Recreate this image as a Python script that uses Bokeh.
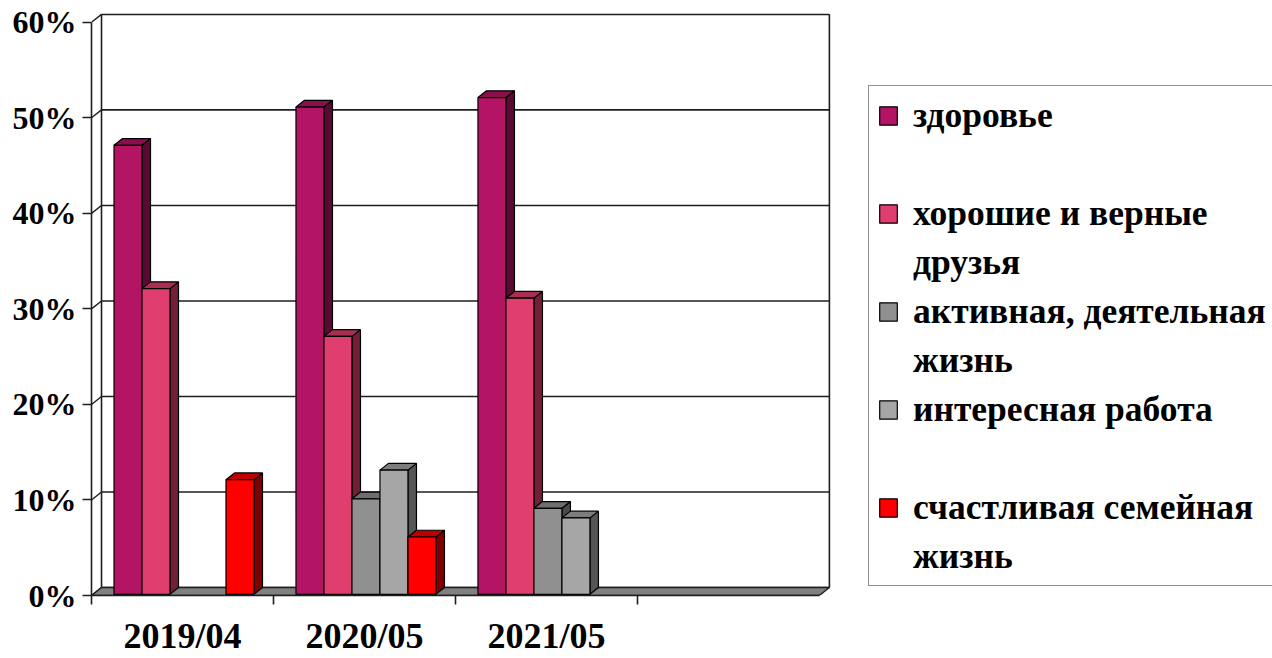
from bokeh.plotting import figure
from bokeh.models import (Range1d, LinearAxis, FixedTicker, PrintfTickFormatter,
                          Legend, LegendItem, ColumnDataSource)
from bokeh.embed import file_html
from bokeh.resources import INLINE

# ---------------- data ----------------
categories = ["2019/04", "2020/05", "2021/05", ""]
series_names = ["здоровье", "хорошие и верные друзья", "активная, деятельная жизнь",
                "интересная работа", "счастливая семейная жизнь"]
zdorovye = [47, 51, 52, None]
druzya = [32, 27, 31, None]
aktivnaya = [None, 10, 9, None]
interesnaya = [None, 13, 8, None]
semeynaya = [12, 6, None, None]
y_ticks = [0, 10, 20, 30, 40, 50, 60]

series_values = [zdorovye, druzya, aktivnaya, interesnaya, semeynaya]
# legend rows: (text line, series index or None for a continuation / blank line)
legend_rows = [("здоровье", 0), (" ", None),
               ("хорошие и верные", 1), ("друзья", None),
               ("активная, деятельная", 2), ("жизнь", None),
               ("интересная работа", 3), (" ", None),
               ("счастливая семейная", 4), ("жизнь", None)]

# ---------------- styles ----------------
front_colors = ["#B31463", "#E03E6E", "#909090", "#A6A6A6", "#FF0000"]
top_colors = ["#8A0F4C", "#A82E52", "#6E6E6E", "#7D7D7D", "#C00000"]
side_colors = ["#5A0A32", "#712038", "#4A4A4A", "#555555", "#800000"]
FONT = "Liberation Serif"

NCAT = len(categories)
NSER = len(series_values)
DX, DY = 0.055, 0.83          # depth offset (x in category units, y in percent)
GAP = 1.5                     # gap width as fraction of bar width
FRONT_INSET = 0.15
YMAX = y_ticks[-1]

W, H = 1272, 658
LEFT, TOP, BOTTOM = 91, 13, 61
CHART_W = 739                  # width of the 3-D box in pixels
FRAME_W = W - LEFT
x_end = (NCAT + DX + 0.006) * FRAME_W / CHART_W

p = figure(width=W, height=H,
           x_range=Range1d(0, x_end), y_range=Range1d(0, YMAX + DY + 0.09),
           min_border_left=LEFT, min_border_right=0, min_border_top=TOP, min_border_bottom=BOTTOM,
           output_backend="svg", toolbar_location=None,
           x_axis_type=None, y_axis_type=None)
p.outline_line_color = None
p.background_fill_color = "white"
p.border_fill_color = "white"

LINE = "#1e1e1e"

# back wall gridlines and side-wall connectors
grid_src = ColumnDataSource(dict(
    x0=[DX] * len(y_ticks), y0=[v + DY for v in y_ticks],
    x1=[NCAT + DX] * len(y_ticks), y1=[v + DY for v in y_ticks]))
p.segment("x0", "y0", "x1", "y1", source=grid_src, line_color=LINE, line_width=1.6)
conn_src = ColumnDataSource(dict(
    x0=[0] * len(y_ticks), y0=list(y_ticks),
    x1=[DX] * len(y_ticks), y1=[v + DY for v in y_ticks]))
p.segment("x0", "y0", "x1", "y1", source=conn_src, line_color=LINE, line_width=1.4)
# back wall vertical edges
p.segment(x0=[DX, NCAT + DX], y0=[DY, DY], x1=[DX, NCAT + DX], y1=[YMAX + DY, YMAX + DY],
          line_color=LINE, line_width=1.6)

# floor
p.patch([0, NCAT, NCAT + DX, DX], [0, 0, DY, DY], fill_color="#808080",
        line_color=LINE, line_width=1.4)

# bars
slot = 1.0 / (NSER + GAP)
fx, fy = FRONT_INSET * DX, FRONT_INSET * DY
front_renderers = []
for s, vals in enumerate(series_values):
    L, R, T = [], [], []
    for i, v in enumerate(vals):
        if v is None:
            continue
        left = i + (GAP / 2 + s) * slot
        L.append(left)
        R.append(left + slot)
        T.append(v)
    side_xs = [[r + fx, r + DX, r + DX, r + fx] for r in R]
    side_ys = [[fy, DY, t + DY, t + fy] for t in T]
    top_xs = [[l + fx, r + fx, r + DX, l + DX] for l, r in zip(L, R)]
    top_ys = [[t + fy, t + fy, t + DY, t + DY] for t in T]
    p.patches(side_xs, side_ys, fill_color=side_colors[s], line_color="black", line_width=1.2)
    p.patches(top_xs, top_ys, fill_color=top_colors[s], line_color="black", line_width=1.2)
    fr = p.quad(left=[l + fx for l in L], right=[r + fx for r in R],
                bottom=[fy] * len(T), top=[t + fy for t in T],
                fill_color=front_colors[s], line_color="black", line_width=1.2)
    front_renderers.append(fr)

# invisible renderer for continuation lines of the legend
blank = p.quad(left=[], right=[], top=[], bottom=[], fill_alpha=0, line_alpha=0)

# y axis (front)
yaxis = LinearAxis(ticker=FixedTicker(ticks=y_ticks, minor_ticks=[]),
                   formatter=PrintfTickFormatter(format="%d%%"), bounds=(0, YMAX))
yaxis.axis_line_color = LINE
yaxis.axis_line_width = 1.6
yaxis.major_tick_line_color = LINE
yaxis.major_tick_line_width = 1.6
yaxis.major_tick_out = 9
yaxis.major_tick_in = 0
yaxis.major_label_standoff = 6
yaxis.major_label_text_font = FONT
yaxis.major_label_text_font_style = "bold"
yaxis.major_label_text_font_size = "32px"
yaxis.major_label_text_color = "black"
p.add_layout(yaxis, "left")

# x axis (categories)
xaxis = LinearAxis(ticker=FixedTicker(ticks=[i + 0.5 for i in range(NCAT)],
                                      minor_ticks=list(range(NCAT))),
                   major_label_overrides={i + 0.5: c for i, c in enumerate(categories)},
                   bounds=(0, NCAT))
xaxis.axis_line_color = LINE
xaxis.axis_line_width = 1.4
xaxis.major_tick_out = 0
xaxis.major_tick_in = 0
xaxis.minor_tick_out = 9
xaxis.minor_tick_in = 0
xaxis.minor_tick_line_color = LINE
xaxis.minor_tick_line_width = 1.6
xaxis.major_label_standoff = 11
xaxis.major_label_text_font = FONT
xaxis.major_label_text_font_style = "bold"
xaxis.major_label_text_font_size = "36px"
xaxis.major_label_text_color = "black"
p.add_layout(xaxis, "below")

# legend (inside the wide frame, to the right of the 3-D box)
items = []
for text, s in legend_rows:
    r = front_renderers[s] if s is not None else blank
    items.append(LegendItem(label=text, renderers=[r]))
legend = Legend(items=items, location=(868 - LEFT, 9))
legend.border_line_color = "#222222"
legend.border_line_width = 1.5
legend.background_fill_color = "white"
legend.background_fill_alpha = 1.0
legend.padding = 8
legend.spacing = 7
legend.margin = 0
legend.glyph_width = 22
legend.glyph_height = 23
legend.label_height = 42
legend.label_width = 390
legend.label_standoff = 14
legend.label_text_font = FONT
legend.label_text_font_style = "bold"
legend.label_text_font_size = "35.5px"
legend.label_text_color = "black"
p.add_layout(legend, "center")

open("out.html", "w").write(file_html(p, INLINE))
